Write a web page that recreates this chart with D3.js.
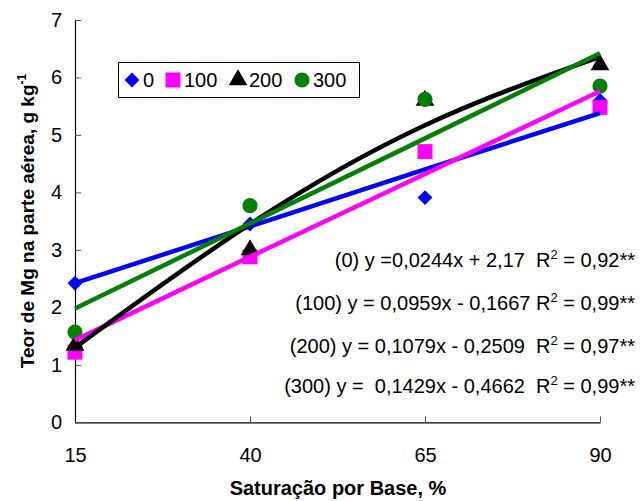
<!DOCTYPE html>
<html>
<head>
<meta charset="utf-8">
<script src="https://cdn.jsdelivr.net/npm/d3@7"></script>
<style>
  html, body { margin: 0; padding: 0; background: #fff; }
  svg { display: block; font-family: Arial, "Liberation Sans", sans-serif; }
  text { white-space: pre; }
</style>
</head>
<body>
<div id="viz"></div>
<script>
// Base saturation levels (%) on the x axis
const xLevels = [15, 40, 65, 90];
const yTicks = [0, 1, 2, 3, 4, 5, 6, 7];

const seriesNames = ['0', '100', '200', '300'];
const obs0 = [2.42, 3.45, 3.91, 5.6];
const obs100 = [1.22, 2.88, 4.71, 5.48];
const obs200 = [1.34, 3.0, 5.6, 6.22];
const obs300 = [1.57, 3.77, 5.62, 5.85];

// Trend line values at the x levels
const fit0 = [2.42, 3.41, 4.4, 5.38];
const fit100 = [1.43, 2.88, 4.32, 5.76];
const fit200 = [1.30, 3.45, 5.17, 6.36];
const fit300 = [1.98, 3.46, 4.94, 6.42];

const equations = [
  ['(0) y =0,0244x + 2,17  R', ' = 0,92**'],
  ['(100) y = 0,0959x - 0,1667 R', ' = 0,99**'],
  ['(200) y = 0,1079x - 0,2509  R', ' = 0,97**'],
  ['(300) y =  0,1429x - 0,4662  R', ' = 0,99**'],
];

const W = 642, H = 501;
const colors = ['#0000ff', '#ff00ff', '#000000', '#008000'];
const shapes = [d3.symbolSquare, d3.symbolSquare, d3.symbolTriangle, d3.symbolCircle];
const symSize = [110, 225, 150, 180];
const symRot = [45, 0, 0, 0];

const x = d3.scaleLinear().domain([15, 90]).range([75, 600]);
const y = d3.scaleLinear().domain([0, 7]).range([422.3, 20]);

const svg = d3.select('#viz').append('svg').attr('width', W).attr('height', H);

// axes
const xAxis = svg.append('g')
  .attr('transform', `translate(0,${y(0)})`)
  .call(d3.axisBottom(x).tickValues(xLevels).tickFormat(d3.format('d'))
    .tickSizeInner(-6).tickSizeOuter(0).tickPadding(26));
const yAxis = svg.append('g')
  .attr('transform', `translate(${x(15)},0)`)
  .call(d3.axisLeft(y).tickValues(yTicks).tickFormat(d3.format('d'))
    .tickSizeInner(-6).tickSizeOuter(0).tickPadding(13));
[xAxis, yAxis].forEach((g) => {
  g.select('.domain').attr('stroke', '#000').attr('stroke-width', 1.2);
  g.selectAll('.tick line').attr('stroke', '#555');
  g.selectAll('.tick text').attr('font-size', 20).attr('fill', '#000')
    .attr('font-family', 'Arial, "Liberation Sans", sans-serif');
});

// axis titles
svg.append('text')
  .attr('x', 338).attr('y', 495)
  .attr('text-anchor', 'middle').attr('font-size', 20).attr('font-weight', 'bold')
  .text('Saturação por Base, %');
const yt = svg.append('text')
  .attr('transform', 'translate(34,221) rotate(-90)')
  .attr('text-anchor', 'middle').attr('font-size', 19).attr('font-weight', 'bold');
yt.append('tspan').text('Teor de Mg na parte aérea, g kg');
yt.append('tspan').attr('dy', -8).attr('font-size', 12).text('-1');

// markers
const obs = [obs0, obs100, obs200, obs300];
obs.forEach((vals, i) => {
  svg.append('g').selectAll('path')
    .data(vals)
    .join('path')
    .attr('transform', (d, j) => `translate(${x(xLevels[j])},${y(d)}) rotate(${symRot[i]})`)
    .attr('d', d3.symbol().type(shapes[i]).size(symSize[i]))
    .attr('fill', colors[i]);
});

// trend lines
const fits = [fit0, fit100, fit200, fit300];
fits.forEach((vals, i) => {
  const line = d3.line()
    .x((d, j) => x(xLevels[j]))
    .y((d) => y(d))
    .curve(i === 2 ? d3.curveNatural : d3.curveLinear);
  svg.append('path')
    .attr('d', line(vals))
    .attr('fill', 'none')
    .attr('stroke', colors[i])
    .attr('stroke-width', 4.5);
});

// equations
const eqY = [267, 310, 353, 393];
equations.forEach((e, i) => {
  const t = svg.append('text')
    .attr('x', 635).attr('y', eqY[i])
    .attr('text-anchor', 'end').attr('font-size', 20);
  t.append('tspan').text(e[0]);
  t.append('tspan').attr('dy', -8).attr('font-size', 13).text('2');
  t.append('tspan').attr('dy', 8).text(e[1]);
});

// legend
const lg = svg.append('g');
lg.append('rect')
  .attr('x', 118.5).attr('y', 62.5).attr('width', 241).attr('height', 35)
  .attr('fill', '#fff').attr('stroke', '#000').attr('stroke-width', 1);
const legX = [132, 173, 238, 302];
seriesNames.forEach((name, i) => {
  lg.append('path')
    .attr('transform', `translate(${legX[i]},80) rotate(${symRot[i]})`)
    .attr('d', d3.symbol().type(shapes[i]).size(symSize[i]))
    .attr('fill', colors[i]);
  lg.append('text')
    .attr('x', legX[i] + 11).attr('y', 87)
    .attr('font-size', 20)
    .text(name);
});
</script>
</body>
</html>
